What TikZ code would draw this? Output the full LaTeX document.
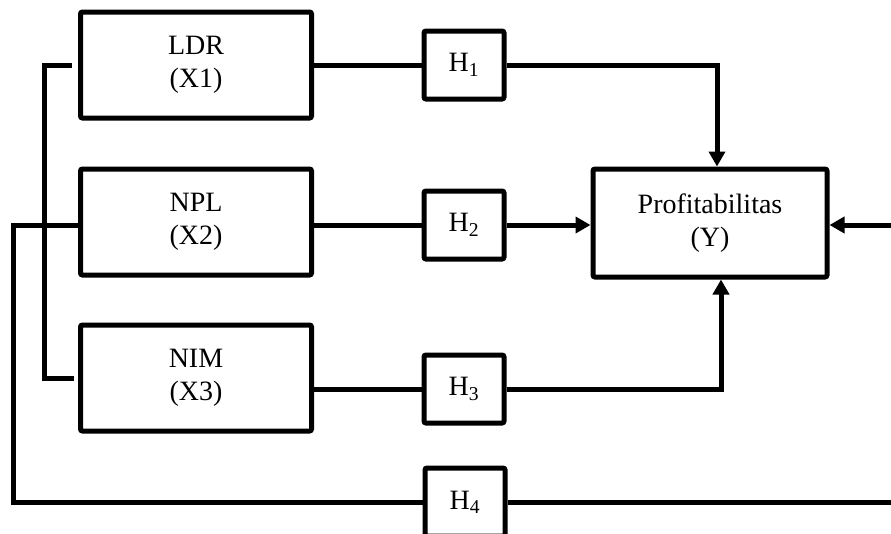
\documentclass[tikz,border=0pt]{standalone}
\usepackage{fontspec}
\setmainfont{Liberation Serif}
\usetikzlibrary{arrows.meta}

\begin{document}
\begin{tikzpicture}[x=1pt, y=-1pt,
  font=\fontsize{28}{32.5}\selectfont,
  box/.style={draw, line width=5pt, rounded corners=2pt, align=center, inner sep=0pt},
  var/.style={box, minimum width=231pt, minimum height=106pt},
  hyp/.style={box, minimum width=80pt, minimum height=68pt},
  link/.style={line width=5pt},
  arr/.style={link, -{Triangle[length=15pt,width=16pt]}}]
  \useasboundingbox (0,0) rectangle (891,533);
  \clip (0,0) rectangle (891,533);
  % variables
  \node[var] (ldr) at (196,65) {LDR\\(X1)};
  \node[var] (npl) at (196,222) {NPL\\(X2)};
  \node[var] (nim) at (196,378) {NIM\\(X3)};
  \node[box, minimum width=234pt, minimum height=108pt] (prof) at (710,223) {Profitabilitas\\(Y)};
  % hypotheses
  \node[hyp] (h1) at (464,65) {H\textsubscript{1}};
  \node[hyp] (h2) at (464,225) {H\textsubscript{2}};
  \node[hyp] (h3) at (464,389) {H\textsubscript{3}};
  \node[hyp] (h4) at (465,502) {H\textsubscript{4}};
  % paths
  \draw[link] (ldr.east) -- (h1.west);
  \draw[arr] (h1.east) -| ([xshift=7pt]prof.north);
  \draw[link] (npl.east |- h2.west) -- (h2.west);
  \draw[arr] (h2.east) -- (prof.west |- h2.east);
  \draw[link] (nim.east |- h3.west) -- (h3.west);
  \draw[arr] (h3.east) -| ([xshift=11pt]prof.south);
  \draw[link] ([xshift=-6pt]ldr.west) -- ++(-28pt,0) |- ([xshift=-4pt]nim.west);
  \draw[link] (npl.west |- h2.west) -- ++(-65pt,0) |- (h4.west);
  \draw[arr] (h4.east) -| ([xshift=70pt]prof.east |- h2.east) -- (prof.east |- h2.east);
\end{tikzpicture}
\end{document}
